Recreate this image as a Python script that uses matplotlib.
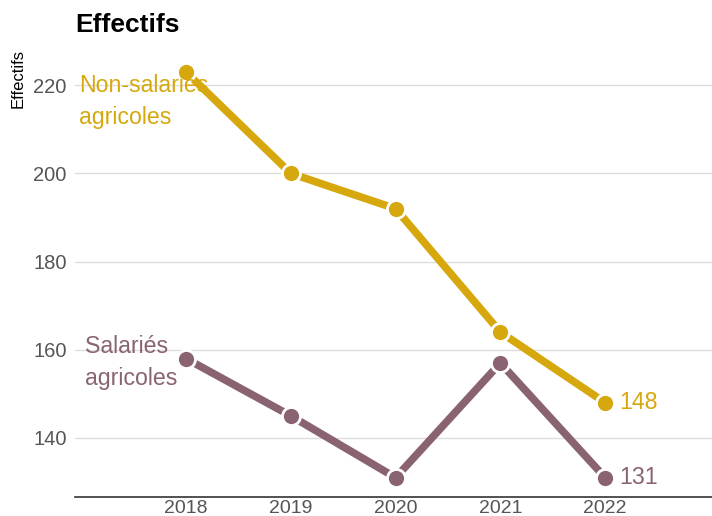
import matplotlib.pyplot as plt

plt.rcParams['font.family'] = ['Liberation Sans', 'DejaVu Sans']

annees = [2018, 2019, 2020, 2021, 2022]
non_salaries = [223, 200, 192, 164, 148]
salaries = [158, 145, 131, 157, 131]
yticks = [140, 160, 180, 200, 220]

gold = '#D6A80E'
mauve = '#8A6373'

fig = plt.figure(figsize=(7.12, 5.16), dpi=100)
ax = fig.add_axes([75/712, 1-497/516, 637/712, 447/516])

for vals, col in [(non_salaries, gold), (salaries, mauve)]:
    ax.plot(annees, vals, color=col, lw=5.5, solid_capstyle='butt', zorder=3)
    ax.plot(annees, vals, 'o', ms=13, color=col, mec='white', mew=2, zorder=4)

ax.set_xlim(2016.94, 2023.02)
ax.set_ylim(126.6, 228)
ax.set_xticks(annees)
ax.set_yticks(yticks)
ax.grid(axis='y', color='#dddddd', lw=1)
ax.set_axisbelow(True)
for s in ['top', 'right', 'left']:
    ax.spines[s].set_visible(False)
ax.spines['bottom'].set_color('#333333')
ax.spines['bottom'].set_linewidth(1.2)
ax.tick_params(length=0, labelsize=14, colors='#555555', pad=2)
ax.tick_params(axis='y', pad=6, labelsize=14.5)

ax.text(2016.98, 222.6, 'Non-salariés\nagricoles', color=gold, fontsize=16.7,
        va='top', ha='left', linespacing=1.5, zorder=5)
ax.text(2017.04, 163.4, 'Salariés\nagricoles', color=mauve, fontsize=16.7,
        va='top', ha='left', linespacing=1.5, zorder=5)
ax.text(2022.13, non_salaries[-1], str(non_salaries[-1]), color=gold,
        fontsize=16.7, va='center', ha='left')
ax.text(2022.13, salaries[-1], str(salaries[-1]), color=mauve,
        fontsize=16.7, va='center', ha='left')

fig.text(75/712, 1-25/516, 'Effectifs', fontsize=19, fontweight='bold',
         va='center', ha='left')
fig.text(18/712, 1-79/516, 'Effectifs', fontsize=12, rotation=90,
         va='center', ha='center')

fig.savefig('out.png', dpi=100)
